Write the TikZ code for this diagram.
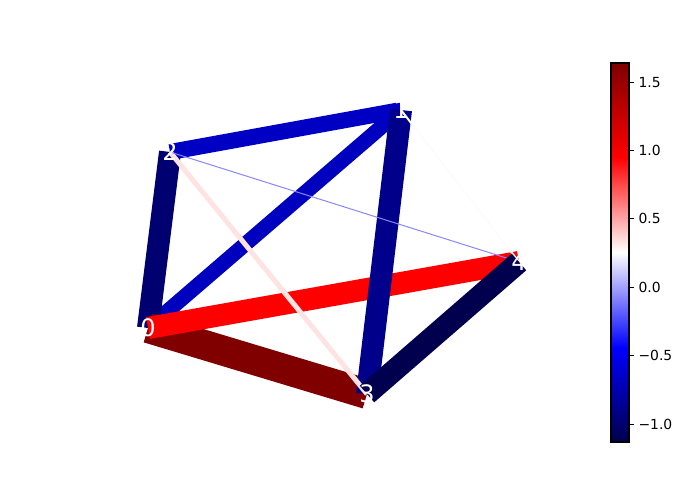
\documentclass[tikz,border=0pt]{standalone}
\usepackage{fontspec}
\setmainfont{DejaVu Sans}
\usetikzlibrary{positioning}

% edge colours (seismic map)
\definecolor{eZeroOne}{rgb}{0,0,0.75}
\definecolor{eZeroTwo}{rgb}{0,0,0.44}
\definecolor{eZeroThree}{rgb}{0.5,0,0}
\definecolor{eZeroFour}{rgb}{1,0,0}
\definecolor{eOneTwo}{rgb}{0,0,0.77}
\definecolor{eOneThree}{rgb}{0,0,0.54}
\definecolor{eOneFour}{rgb}{0.99,0.99,1}
\definecolor{eTwoThree}{rgb}{1,0.89,0.89}
\definecolor{eTwoFour}{rgb}{0.53,0.53,1}
\definecolor{eThreeFour}{rgb}{0,0,0.31}
% colour bar stops
\definecolor{cbNavy}{rgb}{0,0,0.3}
\definecolor{cbBlue}{rgb}{0,0,1}
\definecolor{cbWhite}{rgb}{1,1,1}
\definecolor{cbRed}{rgb}{1,0,0}
\definecolor{cbDark}{rgb}{0.5,0,0}

\tikzset{
  lbl/.style={text=white,font=\fontsize{24}{26}\selectfont,inner sep=0pt},
  ticklbl/.style={font=\fontsize{13.9}{16}\selectfont,inner sep=0pt},
  edge/.style={line cap=butt}
}

\begin{document}
\begin{tikzpicture}[x=1pt,y=1pt]
    \useasboundingbox (0,0) rectangle (700,500);

    % Positions
    \coordinate (p0) at (148,172);
    \coordinate (p1) at (401,390);
    \coordinate (p2) at (170,348);
    \coordinate (p3) at (367,106);
    \coordinate (p4) at (519,238);

    % Edges
    \draw[edge,line width=15pt,eZeroOne] (p0) -- (p1);
    \draw[edge,line width=22pt,eZeroTwo] (p0) -- (p2);
    \draw[edge,line width=30pt,eZeroThree] (p0) -- (p3);
    \draw[edge,line width=22pt,eZeroFour] (p0) -- (p4);
    \draw[edge,line width=16pt,eOneTwo] (p1) -- (p2);
    \draw[edge,line width=22pt,eOneThree] (p1) -- (p3);
    \draw[edge,line width=2pt,eOneFour] (p1) -- (p4);
    \draw[edge,line width=5pt,eTwoThree] (p2) -- (p3);
    \draw[edge,line width=1pt,eTwoFour] (p2) -- (p4);
    \draw[edge,line width=22pt,eThreeFour] (p3) -- (p4);

    % Labels
    \node[lbl] (n0) at (p0) {0};
    \node[lbl] (n1) at (p1) {1};
    \node[lbl] (n2) at (p2) {2};
    \node[lbl] (n3) at (p3) {3};
    \node[lbl] (n4) at (p4) {4};

    % Colour bar
    \shade[bottom color=cbNavy,top color=cbBlue] (611,58) rectangle (629,153);
    \shade[bottom color=cbBlue,top color=cbWhite] (611,152.5) rectangle (629,248);
    \shade[bottom color=cbWhite,top color=cbRed] (611,247.5) rectangle (629,342.5);
    \shade[bottom color=cbRed,top color=cbDark] (611,342) rectangle (629,437);
    \draw[line width=1.1pt] (611,58) rectangle (629,437);
    \foreach \v/\t [count=\i] in {-1.0/{−1.0},-0.5/{−0.5},0.0/{0.0},0.5/{0.5},1.0/{1.0},1.5/{1.5}} {
        \pgfmathsetmacro{\yy}{58+(\v+1.131)*136.8}
        \draw[line width=1.1pt] (629,\yy) -- (634,\yy) node[ticklbl,right=4pt] (tk\i) {\t};
    }
\end{tikzpicture}
\end{document}
